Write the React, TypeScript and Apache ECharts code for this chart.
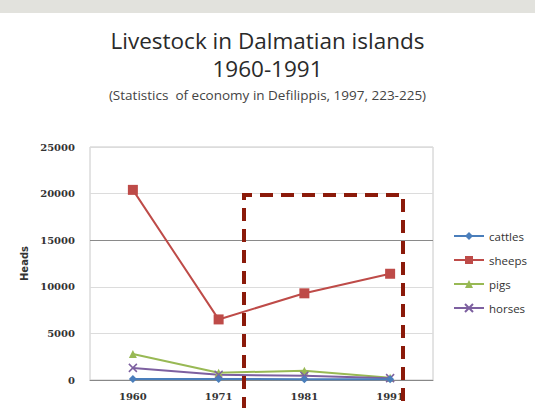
import React, { useEffect, useRef } from "react";
import * as echarts from "echarts";

const years = ["1960", "1971", "1981", "1991"];
const cattles = [120, 110, 90, 80];
const sheeps = [20400, 6500, 9300, 11400];
const pigs = [2800, 780, 1000, 250];
const horses = [1300, 560, 450, 200];
const yTicks = [0, 5000, 10000, 15000, 20000, 25000];

const crossPath = "path://M0,0L10,10M10,0L0,10";

export default function App() {
  const ref = useRef<HTMLDivElement>(null);
  useEffect(() => {
    if (!ref.current) return;
    const chart = echarts.init(ref.current, undefined, { renderer: "svg" });
    const axisFont = { fontFamily: "DejaVu Serif", fontWeight: "bold" as const, fontSize: 10, color: "#333" };
    chart.setOption({
      animation: false,
      backgroundColor: "#ffffff",
      title: [
        {
          text: "Livestock in Dalmatian islands",
          left: "center",
          top: 24,
          textStyle: { fontFamily: "Open Sans", fontWeight: "normal", fontSize: 22.5, color: "#2a2a2a" },
        },
        {
          text: "1960-1991",
          left: "center",
          top: 52,
          textStyle: { fontFamily: "Open Sans", fontWeight: "normal", fontSize: 22.5, color: "#2a2a2a" },
        },
        {
          text: "(Statistics  of economy in Defilippis, 1997, 223-225)",
          left: "center",
          top: 83,
          textStyle: { fontFamily: "Open Sans", fontWeight: "normal", fontSize: 13.5, color: "#444" },
        },
      ],
      grid: {
        left: 90,
        top: 147,
        width: 343,
        height: 233,
        show: true,
        borderColor: "#c8c8c8",
        borderWidth: 1,
      },
      legend: {
        orient: "vertical",
        left: 448,
        top: 225,
        itemWidth: 30,
        itemHeight: 10,
        itemGap: 12,
        textStyle: { fontFamily: "Open Sans", fontWeight: "normal", fontSize: 11.5, color: "#333" },
        data: ["cattles", "sheeps", "pigs", "horses"],
      },
      xAxis: {
        type: "category",
        data: years,
        boundaryGap: true,
        axisLine: { show: true, lineStyle: { color: "#888", width: 1 } },
        axisTick: { show: false },
        axisLabel: { ...axisFont, margin: 11 },
      },
      yAxis: {
        type: "value",
        min: yTicks[0],
        max: yTicks[yTicks.length - 1],
        interval: 5000,
        name: "Heads",
        nameLocation: "middle",
        nameGap: 58,
        nameTextStyle: { fontFamily: "DejaVu Sans", fontWeight: "bold", fontSize: 10, color: "#333" },
        axisLine: { show: false },
        axisTick: { show: false },
        axisLabel: { ...axisFont, margin: 15, formatter: (v: number) => String(v) },
        splitLine: {
          show: true,
          lineStyle: { color: ["#888", "#dcdcdc", "#dcdcdc", "#8a8a8a", "#dcdcdc", "#dcdcdc"], width: 1 },
        },
      },
      series: [
        {
          name: "cattles",
          type: "line",
          data: cattles,
          symbol: "diamond",
          symbolSize: 8,
          color: "#4a7ebb",
          lineStyle: { width: 2 },
          z: 5,
        },
        {
          name: "sheeps",
          type: "line",
          data: sheeps,
          symbol: "rect",
          symbolSize: 10,
          color: "#be4b48",
          lineStyle: { width: 2 },
        },
        {
          name: "pigs",
          type: "line",
          data: pigs,
          symbol: "triangle",
          symbolSize: 8,
          color: "#98b954",
          lineStyle: { width: 2 },
        },
        {
          name: "horses",
          type: "line",
          data: horses,
          symbol: crossPath,
          symbolSize: 8,
          color: "#7d60a0",
          itemStyle: { borderColor: "#7d60a0", borderWidth: 1.5 },
          lineStyle: { width: 2 },
        },
      ],
      graphic: [
        {
          type: "rect",
          shape: { x: 0, y: 0, width: 535, height: 13 },
          style: { fill: "#e2e2dd" },
          z: 10,
        },
        {
          type: "polyline",
          shape: { points: [[244, 410], [244, 195], [403, 195], [403, 410]] },
          style: { stroke: "#8b1a0a", lineWidth: 4, lineDash: [13, 8], fill: "none" },
          z: 100,
        },
      ],
    });
    return () => chart.dispose();
  }, []);
  return (
    <div
      ref={ref}
      style={{ position: "fixed", left: 0, top: 0, width: 535, height: 408 }}
    />
  );
}
